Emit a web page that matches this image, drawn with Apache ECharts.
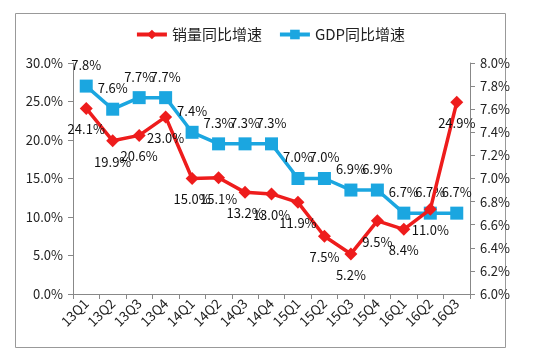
<!DOCTYPE html>
<html><head><meta charset="utf-8">
<script src="https://cdn.jsdelivr.net/npm/echarts@6/dist/echarts.min.js"></script>
<style>html,body{margin:0;padding:0;background:#fff}#c{width:540px;height:360px}</style>
</head><body><div id="c"></div>
<script>
const categories = ['13Q1','13Q2','13Q3','13Q4','14Q1','14Q2','14Q3','14Q4','15Q1','15Q2','15Q3','15Q4','16Q1','16Q2','16Q3'];
const salesGrowth = [24.1,19.9,20.6,23.0,15.0,15.1,13.2,13.0,11.9,7.5,5.2,9.5,8.4,11.0,24.9];
const gdpGrowth = [7.8,7.6,7.7,7.7,7.4,7.3,7.3,7.3,7.0,7.0,6.9,6.9,6.7,6.7,6.7];
const seriesNames = ['销量同比增速','GDP同比增速'];

const font = '"Noto Sans CJK SC", "Liberation Sans", sans-serif';
const chart = echarts.init(document.getElementById('c'), null, {renderer:'canvas'});
const axisLineStyle = {color:'#888', width:1};
chart.setOption({
  animation:false,
  textStyle:{fontFamily:font},
  graphic:[{type:'rect', shape:{x:15.5,y:13.5,width:490,height:334}, style:{fill:'none', stroke:'#999', lineWidth:1}, silent:true}],
  legend:{
    top:22, left:'center', itemWidth:30, itemHeight:12, itemGap:16,
    lineStyle:{width:4},
    textStyle:{fontSize:15, color:'#222', fontFamily:font},
    data:seriesNames
  },
  grid:{left:73, right:70, top:63, bottom:66},
  xAxis:{
    type:'category', data:categories, boundaryGap:true,
    axisLine:{lineStyle:axisLineStyle},
    axisTick:{show:true, length:5, lineStyle:axisLineStyle},
    axisLabel:{rotate:45, interval:0, fontSize:13.5, color:'#222', margin:7, fontFamily:font},
    splitLine:{show:false}
  },
  yAxis:[{
    type:'value', min:0, max:30, interval:5, position:'left',
    axisLine:{show:true, lineStyle:axisLineStyle},
    axisTick:{show:true, length:5, lineStyle:axisLineStyle},
    axisLabel:{formatter:v=>v.toFixed(1)+'%', fontSize:13, color:'#222', margin:10, fontFamily:font},
    splitLine:{show:false}
  },{
    type:'value', min:6, max:8, interval:0.2, position:'right',
    axisLine:{show:true, lineStyle:axisLineStyle},
    axisTick:{show:true, length:5, lineStyle:axisLineStyle},
    axisLabel:{formatter:v=>v.toFixed(1)+'%', fontSize:13, color:'#222', margin:10, fontFamily:font},
    splitLine:{show:false}
  }],
  series:[{
    name:seriesNames[0], type:'line', yAxisIndex:0, data:salesGrowth,
    symbol:'diamond', symbolSize:13,
    lineStyle:{color:'#ee1c1c', width:3.5},
    itemStyle:{color:'#ee1c1c'},
    label:{show:true, position:'bottom', distance:8, formatter:p=>p.value.toFixed(1)+'%', fontSize:13, color:'#111', fontFamily:font},
    z:3
  },{
    name:seriesNames[1], type:'line', yAxisIndex:1, data:gdpGrowth,
    symbol:'rect', symbolSize:13,
    lineStyle:{color:'#1ba6e0', width:3.5},
    itemStyle:{color:'#1ba6e0'},
    label:{show:true, position:'top', distance:8, formatter:p=>p.value.toFixed(1)+'%', fontSize:13, color:'#111', fontFamily:font},
    z:2
  }]
});
</script></body></html>
